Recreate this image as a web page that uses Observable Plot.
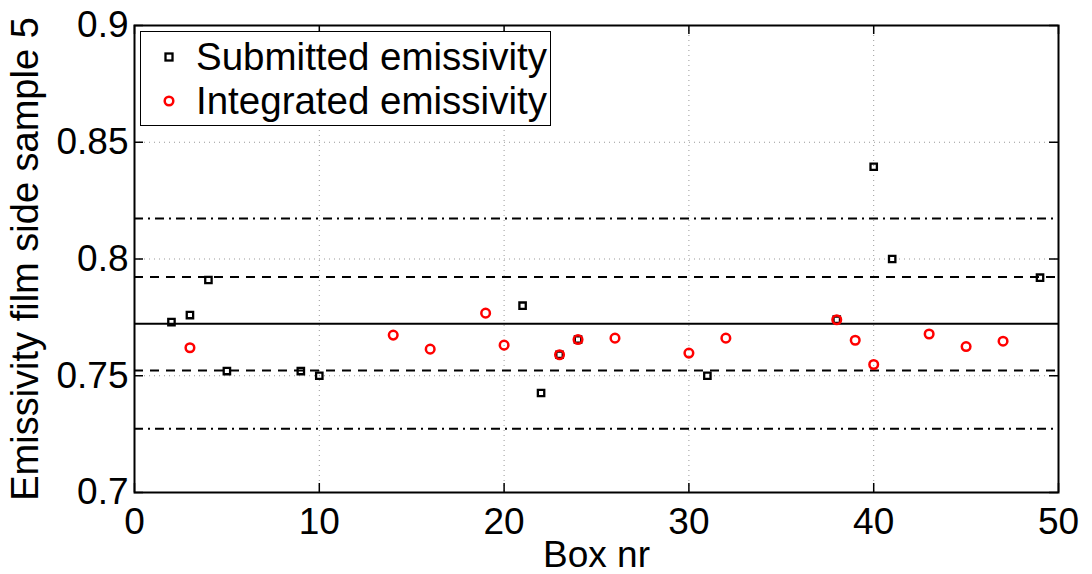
<!DOCTYPE html>
<html>
<head>
<meta charset="utf-8">
<script src="https://cdn.jsdelivr.net/npm/d3@7"></script>
<script src="https://cdn.jsdelivr.net/npm/@observablehq/plot@0.6"></script>
<style>
  html, body { margin: 0; padding: 0; background: #fff; }
  #wrap { position: relative; width: 1092px; height: 574px; font-family: "Liberation Sans", Arial, Helvetica, sans-serif; }
  #legend { position: absolute; left: 140px; top: 31px; width: 409px; height: 93px; border: 1.5px solid #000; background: #fff; }
  .row { position: absolute; left: 0; height: 44px; display: flex; align-items: center; font-size: 38.5px; color: #000; white-space: nowrap; }
  .row svg { margin-left: 21px; margin-right: 20px; }
</style>
</head>
<body>
<div id="wrap"></div>
<script>
// ---- data ----
const submittedBox = [2, 3, 4, 5, 9, 10, 21, 22, 23, 24, 31, 38, 40, 41, 49];
const submittedVal = [0.773, 0.776, 0.791, 0.752, 0.752, 0.750, 0.780, 0.7426, 0.759, 0.7655, 0.750, 0.774, 0.8395, 0.800, 0.792];

const integratedBox = [3, 14, 16, 19, 20, 23, 24, 26, 30, 32, 38, 39, 40, 43, 45, 47];
const integratedVal = [0.762, 0.7674, 0.7614, 0.7768, 0.7631, 0.759, 0.7655, 0.7661, 0.7597, 0.7661, 0.774, 0.7652, 0.7548, 0.7679, 0.7625, 0.7648];

const meanLine = [0.7723];
const innerBand = [0.7523, 0.7923];
const outerBand = [0.7273, 0.8173];

const xTicks = [0, 10, 20, 30, 40, 50];
const yTicks = [0.7, 0.75, 0.8, 0.85, 0.9];
const yTickLabels = ["0.7", "0.75", "0.8", "0.85", "0.9"];

const xLabel = "Box nr";
const yLabel = "Emissivity film side sample 5";
const seriesNames = ["Submitted emissivity", "Integrated emissivity"];

// ---- build ----
const submitted = submittedBox.map((b, i) => ({box: b, value: submittedVal[i]}));
const integrated = integratedBox.map((b, i) => ({box: b, value: integratedVal[i]}));

const W = 1092, H = 574;
const mL = 134, mR = 34, mT = 25, mB = 82;
const plotH = H - mT - mB, plotW = W - mL - mR;
const tickLen = 9;
const FS = 37;

const chart = Plot.plot({
  width: W,
  height: H,
  marginLeft: mL,
  marginRight: mR,
  marginTop: mT,
  marginBottom: mB,
  style: {fontFamily: '"Liberation Sans", Arial, Helvetica, sans-serif', background: "#fff", color: "#000", overflow: "visible"},
  x: {domain: [0, 50], label: null},
  y: {domain: [0.7, 0.9], label: null},
  marks: [
    Plot.gridX(xTicks, {stroke: "#999", strokeOpacity: 1, strokeWidth: 1, strokeDasharray: "1,4"}),
    Plot.gridY(yTicks, {stroke: "#999", strokeOpacity: 1, strokeWidth: 1, strokeDasharray: "1,4"}),
    Plot.ruleY(outerBand, {stroke: "#000", strokeWidth: 2, strokeDasharray: "9,5,2,5"}),
    Plot.ruleY(innerBand, {stroke: "#000", strokeWidth: 2, strokeDasharray: "9,7"}),
    Plot.ruleY(meanLine, {stroke: "#000", strokeWidth: 2}),
    Plot.dot(submitted, {x: "box", y: "value", symbol: "square", r: 3.6, stroke: "#000", strokeWidth: 2.3, fill: "none"}),
    Plot.dot(integrated, {x: "box", y: "value", symbol: "circle", r: 4.3, stroke: "#ff0000", strokeWidth: 2.5, fill: "none"}),
    Plot.frame({stroke: "#000", strokeWidth: 2}),
    // inward ticks on all four sides
    Plot.tickX(xTicks, {x: d => d, insetTop: plotH - tickLen, stroke: "#000", strokeWidth: 1.5}),
    Plot.tickX(xTicks, {x: d => d, insetBottom: plotH - tickLen, stroke: "#000", strokeWidth: 1.5}),
    Plot.tickY(yTicks, {y: d => d, insetRight: plotW - tickLen, stroke: "#000", strokeWidth: 1.5}),
    Plot.tickY(yTicks, {y: d => d, insetLeft: plotW - tickLen, stroke: "#000", strokeWidth: 1.5}),
    Plot.axisX(xTicks, {anchor: "bottom", tickSize: 0, tickPadding: 15, fontSize: FS, tickFormat: d => String(d), label: null}),
    Plot.axisY(yTicks, {anchor: "left", tickSize: 0, tickPadding: 6, fontSize: FS, tickFormat: (d, i) => yTickLabels[i], label: null}),
    Plot.text([xLabel], {frameAnchor: "bottom", dy: 74, textAnchor: "middle", text: d => d, fontSize: FS, fill: "#000"}),
    Plot.text([yLabel], {frameAnchor: "left", dx: -109, textAnchor: "middle", rotate: -90, text: d => d, fontSize: 38, fill: "#000"})
  ]
});

const wrap = document.getElementById("wrap");
wrap.appendChild(chart);

// legend inside the plot area (top-left)
const legend = document.createElement("div");
legend.id = "legend";
const rowDefs = [
  {name: seriesNames[0], icon: '<svg width="14" height="14"><rect x="3.5" y="3.5" width="7" height="7" fill="none" stroke="#000" stroke-width="2.3"/></svg>', top: 3},
  {name: seriesNames[1], icon: '<svg width="14" height="14"><circle cx="7" cy="7" r="4.3" fill="none" stroke="#ff0000" stroke-width="2.5"/></svg>', top: 47}
];
rowDefs.forEach(r => {
  const row = document.createElement("div");
  row.className = "row";
  row.style.top = r.top + "px";
  row.innerHTML = r.icon + "<span>" + r.name + "</span>";
  legend.appendChild(row);
});
wrap.appendChild(legend);
</script>
</body>
</html>
